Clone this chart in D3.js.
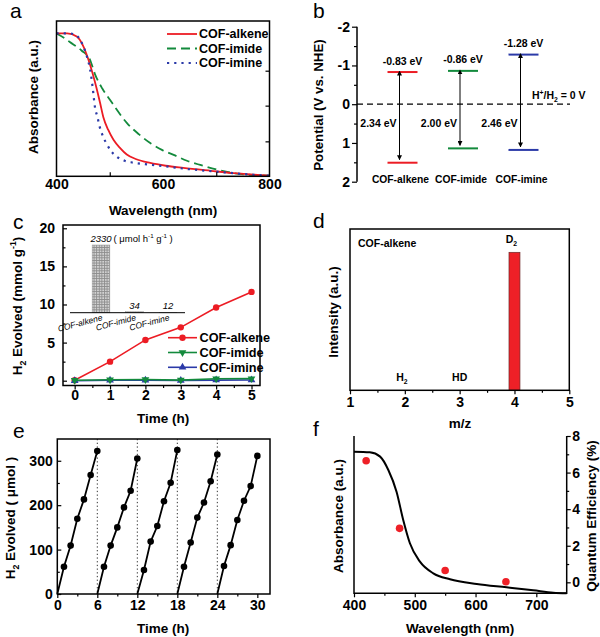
<!DOCTYPE html>
<html><head><meta charset="utf-8">
<script src="https://cdn.jsdelivr.net/npm/d3@7"></script>
<style>
body{margin:0;background:#fff;}
svg{display:block;background:#fff;font-family:"Liberation Sans",Arial,Helvetica,sans-serif;}
</style></head><body>
<svg id="chart" width="600" height="637"></svg>
<script>
// ---------- DATA ----------
// Panel a: UV-vis absorbance
const aSeries = ["COF-alkene", "COF-imide", "COF-imine"];
const aAlkeneNm = [400,420,438,450,460,468,475,482,488,497,507,520,532,550,576,605,638,690,733,770,800];
const aAlkeneAbs = [0.92,0.92,0.90,0.84,0.75,0.66,0.57,0.47,0.38,0.30,0.235,0.18,0.14,0.11,0.086,0.068,0.054,0.035,0.02,0.01,0.004];
const aImideNm = [400,415,425,447,463,472,486,500,515,532,555,576,598,620,645,670,700,733,770,800];
const aImideAbs = [0.92,0.89,0.865,0.81,0.75,0.66,0.565,0.495,0.42,0.344,0.27,0.214,0.17,0.138,0.10,0.073,0.045,0.02,0.008,0.004];
const aImineNm = [400,425,438,450,458,463,468,472,477,481,487,494,503,513,528,544,576,610,638,690,733,770,800];
const aImineAbs = [0.92,0.92,0.905,0.84,0.76,0.69,0.57,0.45,0.38,0.32,0.26,0.21,0.16,0.127,0.10,0.088,0.075,0.062,0.05,0.033,0.02,0.01,0.004];
const aXTicks = [400, 600, 800];

// Panel b: band positions
const bCategories = ["COF-alkene", "COF-imide", "COF-imine"];
const bCB = [-0.83, -0.86, -1.28];
const bGap = [2.34, 2.00, 2.46];
const bYTicks = [-2, -1, 0, 1, 2];

// Panel c: H2 evolution
const cTime = [0, 1, 2, 3, 4, 5];
const cAlkene = [0.05, 2.5, 5.35, 7.0, 9.6, 11.65];
const cImide = [0.05, 0.12, 0.15, 0.08, 0.25, 0.27];
const cImine = [0.0, 0.05, 0.05, 0.03, 0.08, 0.1];
const cYTicks = [0, 5, 10, 15, 20];
const cInsetCats = ["COF-alkene", "COF-imide", "COF-imine"];
const cInsetRates = [2330, 34, 12];

// Panel d: mass spec
const dMz = [2, 3, 4];
const dIntensity = [0.003, 0.003, 1.0];
const dLabels = ["H", "HD", "D"];
const dXTicks = [1, 2, 3, 4, 5];

// Panel e: cycling (5 runs, 6 h each)
const eHours = [0, 1, 2, 3, 4, 5, 6];
const eRun1 = [0, 61.5, 109, 169.5, 213, 268, 322];
const eRun2 = [0, 61.5, 109, 150, 195, 232.5, 305];
const eRun3 = [0, 54, 118, 153, 209, 250.5, 324];
const eRun4 = [0, 61.5, 116, 172, 206, 254, 314];
const eRun5 = [0, 63, 110, 166.5, 210, 243, 311];
const eXTicks = [0, 6, 12, 18, 24, 30];
const eYTicks = [0, 100, 200, 300];

// Panel f: absorbance + AQE
const fNm = [400,426,443,456.5,470,481,492,508.5,530.5,558,602,651,695,728,750];
const fAbs = [0.90,0.896,0.869,0.784,0.646,0.466,0.318,0.201,0.127,0.089,0.059,0.038,0.019,0.004,0.0];
const fQeNm = [420, 475, 550, 650];
const fQe = [6.65, 2.95, 0.65, 0.03];
const fXTicks = [400, 500, 600, 700];
const fQTicks = [0, 2, 4, 6, 8];

// ---------- HELPERS ----------
const svg = d3.select("#chart");
const FONT = '"Liberation Sans", Arial, Helvetica, sans-serif';
const RED = "#ec1c24", GREEN = "#138a3c", BLUE = "#2b3aa8";

function letter(t, x, y) {
  svg.append("text").attr("x", x).attr("y", y).attr("font-size", 21).attr("fill", "#000").text(t);
}
function rich(sel, parts, size) {
  let off = 0;
  parts.forEach(p => {
    const target = p.s === "sub" ? size * 0.3 : p.s === "sup" ? -size * 0.42 : 0;
    sel.append("tspan").attr("dy", target - off).attr("font-size", p.s ? size * 0.65 : size).text(p.t);
    off = target;
  });
  return sel;
}
function title(parts, x, y, rot, size = 13.5, weight = "bold", anchor = "middle") {
  const t = svg.append("text")
    .attr("transform", `translate(${x},${y})` + (rot ? ` rotate(${rot})` : ""))
    .attr("text-anchor", anchor).attr("font-weight", weight).attr("font-size", size).attr("fill", "#000");
  rich(t, typeof parts === "string" ? [{t: parts}] : parts, size);
  return t;
}
function styleAxis(g, fs = 14) {
  g.select(".domain").remove();
  g.selectAll(".tick line").attr("stroke", "#000").attr("stroke-width", 1.2);
  g.selectAll(".tick text").attr("font-family", FONT).attr("font-weight", "bold").attr("font-size", fs).attr("fill", "#000");
  return g;
}
function frame(x0, y0, x1, y1) {
  svg.append("rect").attr("x", x0).attr("y", y0).attr("width", x1 - x0).attr("height", y1 - y0)
    .attr("fill", "none").attr("stroke", "#000").attr("stroke-width", 1.5);
}
function minor(axisFn, scale, vals, size, tx, ty) {
  svg.append("g").attr("transform", `translate(${tx},${ty})`)
    .call(axisFn(scale).tickValues(vals).tickSize(size).tickFormat(""))
    .call(g => styleAxis(g));
}
const fmt = d => String(d);

// ---------- PANEL A ----------
{
  const x = d3.scaleLinear([400, 800], [56.5, 269.5]);
  const y = d3.scaleLinear([0, 1], [176.3, 21]);
  const line = d3.line().x(d => x(d[0])).y(d => y(d[1])).curve(d3.curveMonotoneX);
  const series = [
    {nm: aAlkeneNm, v: aAlkeneAbs, c: RED, dash: null, w: 1.8},
    {nm: aImideNm, v: aImideAbs, c: GREEN, dash: "9,5", w: 1.8},
    {nm: aImineNm, v: aImineAbs, c: BLUE, dash: "2.2,5", w: 2.2}
  ];
  [series[1], series[0], series[2]].forEach(s => {
    svg.append("path").datum(d3.zip(s.nm, s.v)).attr("d", line).attr("fill", "none")
      .attr("stroke", s.c).attr("stroke-width", s.w).attr("stroke-dasharray", s.dash);
  });
  svg.append("g").attr("transform", "translate(0,176.3)")
    .call(d3.axisBottom(x).tickValues(aXTicks).tickSize(0).tickPadding(3).tickFormat(fmt)).call(g => styleAxis(g));
  minor(d3.axisBottom, x, [500, 700], -4, 0, 176.3);
  minor(d3.axisRight, y, [0.225, 0.455, 0.68], -4, 269.5, 0);
  frame(56.5, 21, 269.5, 176.3);
  aSeries.forEach((name, i) => {
    const s = series[i], yy = 34 + i * 14.5;
    svg.append("line").attr("x1", 167).attr("x2", 197).attr("y1", yy).attr("y2", yy)
      .attr("stroke", s.c).attr("stroke-width", s.w).attr("stroke-dasharray", s.dash);
    svg.append("text").attr("x", 199).attr("y", yy + 4.3).attr("font-weight", "bold").attr("font-size", 12.5).text(name);
  });
  title("Absorbance (a.u.)", 38, 97, -90);
  title("Wavelength (nm)", 163, 215, 0);
  letter("a", 10, 18);
}

// ---------- PANEL B ----------
{
  const x = d3.scalePoint(bCategories, [402.5, 523.5]);
  const y = d3.scaleLinear([-2, 2], [26.7, 181.7]);
  const colors = [RED, GREEN, BLUE];
  const ax = 357;
  svg.append("g").attr("transform", `translate(${ax},0)`)
    .call(d3.axisLeft(y).tickValues(bYTicks).tickSize(5).tickPadding(2).tickFormat(fmt)).call(g => styleAxis(g));
  minor(d3.axisLeft, y, [-1.5, -0.5, 0.5, 1.5], 3, ax, 0);
  svg.append("line").attr("x1", ax).attr("x2", ax).attr("y1", y(-2)).attr("y2", y(2)).attr("stroke", "#000").attr("stroke-width", 1.5);
  svg.append("line").attr("x1", ax).attr("x2", 570).attr("y1", y(0)).attr("y2", y(0))
    .attr("stroke", "#000").attr("stroke-width", 1.3).attr("stroke-dasharray", "6,4");
  const defs = svg.append("defs");
  ["arrS", "arrE"].forEach((id, k) => {
    defs.append("marker").attr("id", id).attr("viewBox", "0 0 10 10").attr("refX", k ? 9 : 1).attr("refY", 5)
      .attr("markerWidth", 5).attr("markerHeight", 5).attr("orient", "auto-start-reverse").attr("markerUnits", "userSpaceOnUse")
      .append("path").attr("d", "M0,0 L10,5 L0,10 z").attr("fill", "#000");
  });
  bCategories.forEach((c, i) => {
    const cx = x(c), cb = bCB[i], vb = bCB[i] + bGap[i];
    [cb, vb].forEach(v => {
      svg.append("line").attr("x1", cx - 15).attr("x2", cx + 15).attr("y1", y(v)).attr("y2", y(v))
        .attr("stroke", colors[i]).attr("stroke-width", 2);
    });
    const axx = cx - 3;
    svg.append("line").attr("x1", axx).attr("x2", axx).attr("y1", y(cb) + 3).attr("y2", y(vb) - 3)
      .attr("stroke", "#000").attr("stroke-width", 1)
      .attr("marker-start", "url(#arrS)").attr("marker-end", "url(#arrE)");
    svg.append("text").attr("x", cx).attr("y", y(cb) - 7.5).attr("text-anchor", "middle")
      .attr("font-weight", "bold").attr("font-size", 10.5).text(cb.toFixed(2) + " eV");
    svg.append("text").attr("x", axx - 3).attr("y", y(0.49) + 4).attr("text-anchor", "end")
      .attr("font-weight", "bold").attr("font-size", 10.5).text(bGap[i].toFixed(2) + " eV");
    svg.append("text").attr("x", cx - 2).attr("y", 183).attr("text-anchor", "middle")
      .attr("font-weight", "bold").attr("font-size", 10.3).text(c);
  });
  const h = svg.append("text").attr("x", 532).attr("y", 99).attr("font-weight", "bold").attr("font-size", 10.5);
  rich(h, [{t: "H"}, {t: "+", s: "sup"}, {t: "/H"}, {t: "2", s: "sub"}, {t: " = 0 V"}], 10.5);
  title("Potential (V vs. NHE)", 323, 105, -90, 13.3);
  letter("b", 313, 18);
}

// ---------- PANEL C ----------
{
  const x = d3.scaleLinear([-0.33, 5.24], [63, 260]);
  const y = d3.scaleLinear([-0.63, 20.43], [385.5, 225]);
  svg.append("g").attr("transform", "translate(0,385.5)")
    .call(d3.axisBottom(x).tickValues(cTime).tickSize(4).tickPadding(1).tickFormat(fmt)).call(g => styleAxis(g));
  minor(d3.axisBottom, x, [0.5, 1.5, 2.5, 3.5, 4.5], 2.5, 0, 385.5);
  svg.append("g").attr("transform", "translate(63,0)")
    .call(d3.axisLeft(y).tickValues(cYTicks).tickSize(-4).tickPadding(8).tickFormat(fmt)).call(g => styleAxis(g));
  minor(d3.axisLeft, y, [2.5, 7.5, 12.5, 17.5], -2.5, 63, 0);
  frame(63, 225, 260, 385.5);

  // inset bar chart
  const xi = d3.scalePoint(cInsetCats, [101, 168]);
  const yi = d3.scaleLinear([0, 2330], [312.7, 245]);
  const bw = 17.7;
  const pat = svg.append("defs").append("pattern").attr("id", "grid").attr("width", 2.6).attr("height", 2.6)
    .attr("patternUnits", "userSpaceOnUse");
  pat.append("rect").attr("width", 2.6).attr("height", 2.6).attr("fill", "#d4d4d4");
  pat.append("path").attr("d", "M0,0.5 H2.6 M0.5,0 V2.6").attr("stroke", "#8c8c8c").attr("stroke-width", 0.9);
  cInsetCats.forEach((c, i) => {
    svg.append("rect").attr("x", xi(c) - bw / 2).attr("y", yi(cInsetRates[i])).attr("width", bw)
      .attr("height", yi(0) - yi(cInsetRates[i])).attr("fill", "url(#grid)").attr("stroke", "#999").attr("stroke-width", 0.5);
    const t = svg.append("text").attr("x", xi(c)).attr("y", yi(cInsetRates[i]) - 3).attr("text-anchor", "middle")
      .attr("font-style", "italic").attr("font-size", 9.5).text(String(cInsetRates[i]));
    if (i === 0) {
      const w = t.node().getComputedTextLength();
      const u = svg.append("text").attr("x", xi(c) + w / 2 + 2).attr("y", yi(cInsetRates[i]) - 3).attr("font-size", 9.5);
      rich(u, [{t: "( μmol h"}, {t: "-1", s: "sup"}, {t: " g"}, {t: "-1", s: "sup"}, {t: " )"}], 9.5);
    }
    svg.append("text").attr("transform", `translate(${xi(c) + 2},320) rotate(-15)`).attr("text-anchor", "end")
      .attr("font-style", "italic").attr("font-size", 8.5).text(c);
  });
  svg.append("line").attr("x1", 70).attr("x2", 185).attr("y1", yi(0)).attr("y2", yi(0)).attr("stroke", "#000").attr("stroke-width", 1);

  const line = d3.line().x(d => x(d[0])).y(d => y(d[1]));
  const triUp = d3.symbol(d3.symbolTriangle, 26)();
  const sers = [
    {name: "COF-alkene", v: cAlkene, c: RED, m: "circle"},
    {name: "COF-imide", v: cImide, c: GREEN, m: "down"},
    {name: "COF-imine", v: cImine, c: BLUE, m: "up"}
  ];
  function marker(g, m, c, px, py) {
    if (m === "circle") g.append("circle").attr("cx", px).attr("cy", py).attr("r", 3.2).attr("fill", c);
    else g.append("path").attr("d", triUp).attr("fill", c)
      .attr("transform", `translate(${px},${py})` + (m === "down" ? " rotate(180)" : ""));
  }
  [sers[0], sers[2], sers[1]].forEach(s => {
    const data = d3.zip(cTime, s.v);
    svg.append("path").datum(data).attr("d", line).attr("fill", "none").attr("stroke", s.c).attr("stroke-width", 1.6);
    data.forEach(d => marker(svg, s.m, s.c, x(d[0]), y(d[1])));
  });
  sers.forEach((s, i) => {
    const yy = 337.7 + i * 14.8;
    svg.append("line").attr("x1", 168).attr("x2", 197).attr("y1", yy).attr("y2", yy).attr("stroke", s.c).attr("stroke-width", 1.6);
    marker(svg, s.m, s.c, 182.5, yy);
    svg.append("text").attr("x", 199.5).attr("y", yy + 4.5).attr("font-weight", "bold").attr("font-size", 12.7).text(s.name);
  });
  title([{t: "H"}, {t: "2", s: "sub"}, {t: " Evolved (mmol g"}, {t: "-1", s: "sup"}, {t: ")"}], 22, 306, -90);
  title("Time (h)", 163, 423, 0);
  letter("c", 13, 229);
}

// ---------- PANEL D ----------
{
  const x = d3.scaleLinear([1, 5], [350, 569.3]);
  const y = d3.scaleLinear([0, 1.169], [390.3, 229]);
  svg.append("g").attr("transform", "translate(0,390.3)")
    .call(d3.axisBottom(x).tickValues(dXTicks).tickSize(4).tickPadding(3).tickFormat(fmt)).call(g => styleAxis(g));
  minor(d3.axisBottom, x, [1.5, 2.5, 3.5, 4.5], 2.5, 0, 390.3);
  const bw = x(4.1) - x(3.9);
  dMz.forEach((m, i) => {
    svg.append("rect").attr("x", x(m) - bw / 2).attr("y", y(dIntensity[i])).attr("width", bw)
      .attr("height", y(0) - y(dIntensity[i])).attr("fill", i === 2 ? "#ee2027" : "none")
      .attr("stroke", i === 2 ? "#6b2a2a" : "none").attr("stroke-width", 0.7);
    const t = svg.append("text").attr("x", x(m) - (dLabels[i] === "HD" ? 0 : 3)).attr("y", y(dIntensity[i]) - 9)
      .attr("text-anchor", "middle").attr("font-weight", "bold").attr("font-size", 10.5);
    if (dLabels[i] === "HD") t.text("HD");
    else rich(t, [{t: dLabels[i]}, {t: "2", s: "sub"}], 10.5);
  });
  frame(350, 229, 569.3, 390.3);
  svg.append("text").attr("x", 358).attr("y", 247).attr("font-weight", "bold").attr("font-size", 10.5).text("COF-alkene");
  title("Intensity (a.u.)", 338, 312, -90);
  title("m/z", 460, 428, 0);
  letter("d", 313, 228);
}

// ---------- PANEL E ----------
{
  const x = d3.scaleLinear([0, 31.9], [57.3, 270]);
  const y = d3.scaleLinear([0, 349], [594, 439]);
  svg.append("g").attr("transform", "translate(0,594)")
    .call(d3.axisBottom(x).tickValues(eXTicks).tickSize(4).tickPadding(2).tickFormat(fmt)).call(g => styleAxis(g));
  minor(d3.axisBottom, x, [3, 9, 15, 21, 27], 2.5, 0, 594);
  svg.append("g").attr("transform", "translate(57.3,0)")
    .call(d3.axisLeft(y).tickValues(eYTicks).tickSize(-4).tickPadding(4.6).tickFormat(fmt)).call(g => styleAxis(g));
  minor(d3.axisLeft, y, [50, 150, 250], -2.5, 57.3, 0);
  [6, 12, 18, 24].forEach(t => {
    svg.append("line").attr("x1", x(t)).attr("x2", x(t)).attr("y1", 439).attr("y2", 594)
      .attr("stroke", "#333").attr("stroke-width", 1).attr("stroke-dasharray", "1.3,2.4");
  });
  const line = d3.line().x(d => x(d[0])).y(d => y(d[1]));
  [eRun1, eRun2, eRun3, eRun4, eRun5].forEach((run, k) => {
    const data = eHours.map((h, j) => [h + 6 * k, run[j]]);
    svg.append("path").datum(data).attr("d", line).attr("fill", "none").attr("stroke", "#000").attr("stroke-width", 1.8);
    data.slice(1).forEach(d => svg.append("circle").attr("cx", x(d[0])).attr("cy", y(d[1])).attr("r", 3.3).attr("fill", "#000"));
  });
  frame(57.3, 439, 270, 594);
  title([{t: "H"}, {t: "2", s: "sub"}, {t: " Evolved ( μmol )"}], 15, 518, -90);
  title("Time (h)", 163, 633, 0);
  letter("e", 13, 438);
}

// ---------- PANEL F ----------
{
  const x = d3.scaleLinear([400, 750], [354, 566.7]);
  const ya = d3.scaleLinear([0, 1], [593.3, 436]);
  const yq = d3.scaleLinear([-0.6, 8], [593.3, 436]);
  svg.append("g").attr("transform", "translate(0,593.3)")
    .call(d3.axisBottom(x).tickValues(fXTicks).tickSize(4).tickPadding(3).tickFormat(fmt)).call(g => styleAxis(g));
  minor(d3.axisBottom, x, [450, 550, 650], 2.5, 0, 593.3);
  svg.append("g").attr("transform", "translate(566.7,0)")
    .call(d3.axisRight(yq).tickValues(fQTicks).tickSize(4).tickPadding(1.5).tickFormat(fmt)).call(g => styleAxis(g));
  minor(d3.axisRight, yq, [1, 3, 5, 7], 2.5, 566.7, 0);
  svg.append("path").attr("d", `M354,436 V593.3 H566.7 V436`).attr("fill", "none").attr("stroke", "#000").attr("stroke-width", 1.5);
  const line = d3.line().x(d => x(d[0])).y(d => ya(d[1])).curve(d3.curveMonotoneX);
  svg.append("path").datum(d3.zip(fNm, fAbs)).attr("d", line).attr("fill", "none").attr("stroke", "#000").attr("stroke-width", 2);
  fQeNm.forEach((n, i) => svg.append("circle").attr("cx", x(n)).attr("cy", yq(fQe[i])).attr("r", 3.8).attr("fill", "#ee2027"));
  title("Absorbance (a.u.)", 343, 516, -90);
  title("Quantum Efficiency (%)", 596, 516, -90);
  title("Wavelength (nm)", 460, 633, 0);
  letter("f", 313, 436);
}
</script>
</body></html>
